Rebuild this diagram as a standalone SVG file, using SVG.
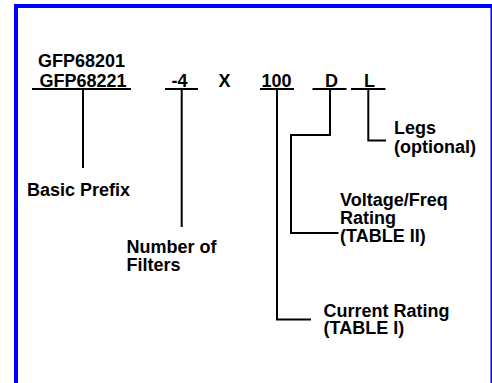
<svg xmlns="http://www.w3.org/2000/svg" width="492" height="383" viewBox="0 0 492 383">
<style>
text{font-family:"Liberation Sans",Arial,sans-serif;font-weight:bold;font-size:18px;fill:#000}
.ln{fill:none;stroke:#000;stroke-width:2}
</style>
<rect x="0" y="0" width="492" height="383" fill="#fff"/>
<rect x="16" y="6" width="476.5" height="400" fill="#fff" stroke="#0000ff" stroke-width="4"/>
<g id="code">
<text x="38" y="67">GFP68201</text>
<text x="39.5" y="86.5">GFP68221</text>
<text x="171.5" y="86.5">-4</text>
<text x="218.5" y="86.5">X</text>
<text x="261.5" y="86.5">100</text>
<text x="325" y="86.5">D</text>
<text x="364" y="86.5">L</text>
</g>
<g id="connectors">
<path class="ln" d="M32 89H131M83 89V168"/>
<path class="ln" d="M165 89H198M181.7 89V227"/>
<path class="ln" d="M260 89H294M277 89V319.5H311"/>
<path class="ln" d="M312.5 89H346.5M330 89V135H291V233H338.5"/>
<path class="ln" d="M351 89H385.5M368.3 89V140.5H386"/>
</g>
<g id="basic-prefix"><text x="27" y="195.5">Basic Prefix</text></g>
<g id="number-of-filters"><text x="126.5" y="252.5">Number of</text><text x="126.5" y="271">Filters</text></g>
<g id="legs"><text x="394" y="134">Legs</text><text x="394" y="152.5">(optional)</text></g>
<g id="voltage"><text x="340" y="206">Voltage/Freq</text><text x="340" y="224">Rating</text><text x="340" y="242">(TABLE II)</text></g>
<g id="current"><text x="323.5" y="316.5">Current Rating</text><text x="323.5" y="334">(TABLE I)</text></g>
</svg>
